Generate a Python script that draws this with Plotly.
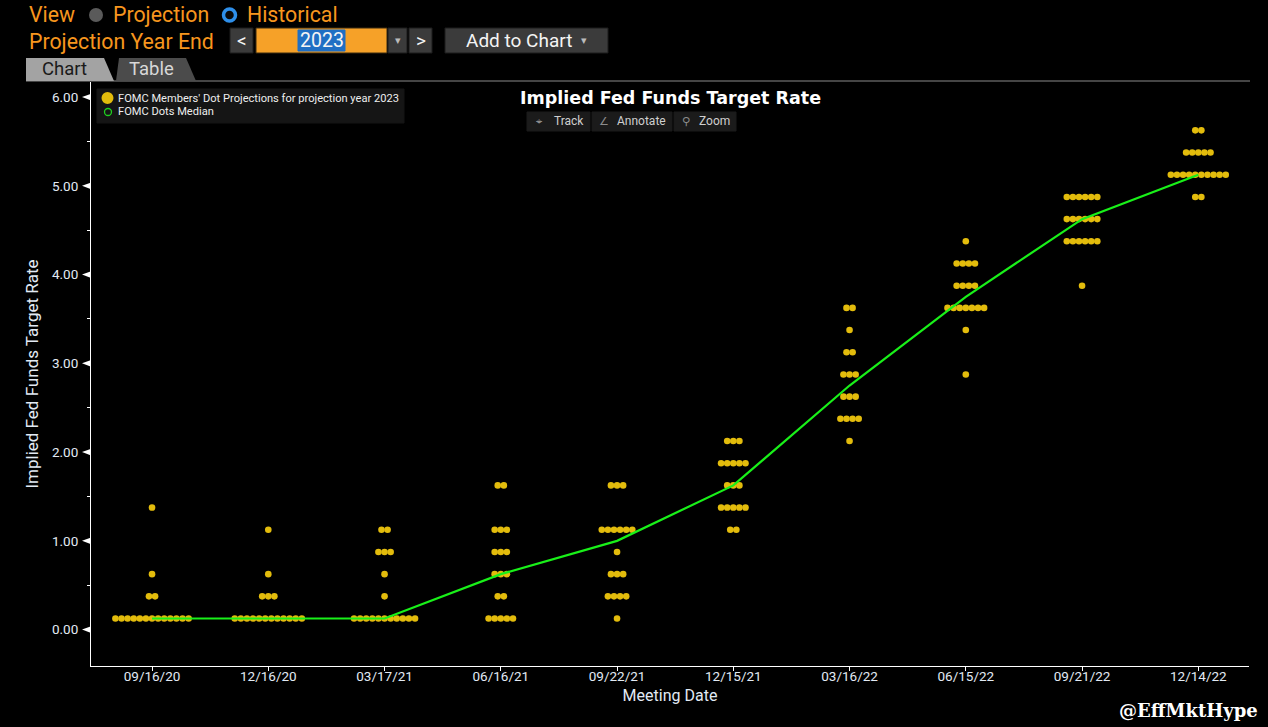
import plotly.graph_objects as go

# ---------------- data ----------------
meetings = ["09/16/20", "12/16/20", "03/17/21", "06/16/21", "09/22/21",
            "12/15/21", "03/16/22", "06/15/22", "09/21/22", "12/14/22"]
dot_rates = [
    [0.125, 0.375, 0.625, 1.375],
    [0.125, 0.375, 0.625, 1.125],
    [0.125, 0.375, 0.625, 0.875, 1.125],
    [0.125, 0.375, 0.625, 0.875, 1.125, 1.625],
    [0.125, 0.375, 0.625, 0.875, 1.125, 1.625],
    [1.125, 1.375, 1.625, 1.875, 2.125],
    [2.125, 2.375, 2.625, 2.875, 3.125, 3.375, 3.625],
    [2.875, 3.375, 3.625, 3.875, 4.125, 4.375],
    [3.875, 4.375, 4.625, 4.875],
    [4.875, 5.125, 5.375, 5.625],
]
dot_counts = [
    [13, 2, 1, 1],
    [12, 3, 1, 1],
    [11, 1, 1, 3, 2],
    [5, 2, 3, 3, 3, 2],
    [1, 4, 3, 1, 6, 3],
    [2, 5, 3, 5, 3],
    [1, 4, 3, 3, 2, 1, 2],
    [1, 1, 7, 4, 4, 1],
    [1, 6, 6, 6],
    [2, 10, 5, 2],
]
median_rate = [0.125, 0.125, 0.125, 0.625, 1.0, 1.625, 2.75, 3.75, 4.625, 5.125]
y_ticks = [0, 1, 2, 3, 4, 5, 6]
y_tick_text = ["%.2f" % v for v in y_ticks]

# ---------------- layout geometry ----------------
FIG_W, FIG_H = 1268, 727
L, R, T, B = 91, 1249, 82, 666
X_RANGE = [-0.525, 9.436]
Y_RANGE = [-0.41, 6.17]
px_per_unit = (R - L) / (X_RANGE[1] - X_RANGE[0])
DOT_STEP = 6.1 / px_per_unit


def px(x):
    return (x - L) / (R - L)


def py(y):
    return (B - y) / (B - T)


ORANGE = "#F7961E"
GOLD = "#E3BC0C"
GREEN = "#19F019"
TICKCOL = "#E2EAF4"
FONT = "Roboto, Liberation Sans, sans-serif"
HDR = 21.3

# ---------------- dots ----------------
xs, ys = [], []
for i, (rates, counts) in enumerate(zip(dot_rates, dot_counts)):
    for r, n in zip(rates, counts):
        for k in range(n):
            xs.append(i + (k - (n - 1) / 2) * DOT_STEP)
            ys.append(r)

xi = list(range(len(meetings)))

fig = go.Figure()
fig.add_trace(go.Scatter(
    x=xs, y=ys, mode="markers",
    name="FOMC Members' Dot Projections for projection year 2023",
    marker=dict(size=6.6, color=GOLD, line=dict(width=0)),
    hoverinfo="y", showlegend=False))
fig.add_trace(go.Scatter(
    x=xi, y=median_rate, mode="lines",
    line=dict(color=GREEN, width=2.2),
    hoverinfo="skip", showlegend=False))
fig.add_trace(go.Scatter(
    x=xi, y=median_rate, mode="markers", name="FOMC Dots Median",
    marker=dict(size=9, color="rgba(0,0,0,0)", symbol="circle-open",
                line=dict(color="#1FC81F", width=1.2)),
    showlegend=False))

shapes = []
annotations = []

# y-axis triangle tick markers
for v in y_ticks:
    h = 3.2 * (Y_RANGE[1] - Y_RANGE[0]) / (B - T)
    shapes.append(dict(type="path", xref="paper", yref="y",
                       path="M %f,%f L %f,%f L %f,%f Z" % (px(82), v, px(90.5), v + h, px(90.5), v - h),
                       fillcolor="white", line=dict(width=0)))

# tab line
shapes.append(dict(type="line", xref="paper", yref="paper",
                   x0=px(26), x1=px(1250), y0=py(81), y1=py(81),
                   line=dict(color="#8a8a8a", width=1)))
# tabs
shapes.append(dict(type="path", xref="paper", yref="paper",
                   path="M %f,%f L %f,%f L %f,%f L %f,%f L %f,%f Z" % (
                       px(116), py(81), px(119), py(58), px(186), py(58), px(196), py(81), px(116), py(81)),
                   fillcolor="#4b4b4b", line=dict(width=0)))
shapes.append(dict(type="path", xref="paper", yref="paper",
                   path="M %f,%f L %f,%f L %f,%f L %f,%f Z" % (
                       px(26), py(81), px(26), py(58), px(104), py(58), px(114), py(81)),
                   fillcolor="#a3a3a3", line=dict(width=0)))
annotations.append(dict(text="Chart", xref="paper", yref="paper", x=px(40), y=py(69),
                        xanchor="left", yanchor="middle", showarrow=False,
                        font=dict(family=FONT, size=18.5, color="#1a1a1a")))
annotations.append(dict(text="Table", xref="paper", yref="paper", x=px(127), y=py(69),
                        xanchor="left", yanchor="middle", showarrow=False,
                        font=dict(family=FONT, size=18.5, color="#d8d8d8")))

# header row 1
annotations.append(dict(text="View", xref="paper", yref="paper", x=px(27), y=py(15),
                        xanchor="left", yanchor="middle", showarrow=False,
                        font=dict(family=FONT, size=HDR, color=ORANGE)))
shapes.append(dict(type="circle", xref="paper", yref="paper",
                   x0=px(89), x1=px(103), y0=py(22), y1=py(8),
                   fillcolor="#5a5a5a", line=dict(width=0)))
annotations.append(dict(text="Projection", xref="paper", yref="paper", x=px(111), y=py(15),
                        xanchor="left", yanchor="middle", showarrow=False,
                        font=dict(family=FONT, size=HDR, color=ORANGE)))
shapes.append(dict(type="circle", xref="paper", yref="paper",
                   x0=px(223.5), x1=px(235.5), y0=py(21), y1=py(9),
                   fillcolor="#0a0a0a", line=dict(color="#2E8FEA", width=3.5)))
annotations.append(dict(text="Historical", xref="paper", yref="paper", x=px(245), y=py(15),
                        xanchor="left", yanchor="middle", showarrow=False,
                        font=dict(family=FONT, size=HDR, color=ORANGE)))

# header row 2
annotations.append(dict(text="Projection Year End", xref="paper", yref="paper", x=px(27), y=py(41),
                        xanchor="left", yanchor="middle", showarrow=False,
                        font=dict(family=FONT, size=HDR, color=ORANGE)))


def box(x0, x1, y0, y1, fill, border="#1c1c1c"):
    shapes.append(dict(type="rect", xref="paper", yref="paper",
                       x0=px(x0), x1=px(x1), y0=py(y1), y1=py(y0),
                       fillcolor=fill, line=dict(color=border, width=1)))


box(230, 253, 28, 53, "#3b3b3b")
box(256, 387, 28, 53, "#F6A128", border="#3a2a10")
box(298, 345, 30, 51, "#1F6FC4", border="#1F6FC4")
box(388, 407, 28, 53, "#3b3b3b")
box(409, 432, 28, 53, "#3b3b3b")
box(445, 608, 28, 53, "#3b3b3b")
for txt, xc, sz in [("<", 241.5, 19), ("2023", 321.5, 19.5), ("\u25BE", 397.5, 11),
                    (">", 420.5, 19), ("Add to Chart", 519, 19), ("\u25BE", 584, 11)]:
    annotations.append(dict(text=txt, xref="paper", yref="paper", x=px(xc), y=py(40.5),
                            xanchor="center", yanchor="middle", showarrow=False,
                            font=dict(family=FONT, size=sz,
                                      color="#f4f4f4" if txt != "\u25BE" else "#bbbbbb")))

# legend box (manual)
box(97, 404, 89, 123, "#151515", border="#151515")
shapes.append(dict(type="circle", xref="paper", yref="paper",
                   x0=px(101.5), x1=px(113.5), y0=py(104), y1=py(92),
                   fillcolor=GOLD, line=dict(width=0)))
shapes.append(dict(type="circle", xref="paper", yref="paper",
                   x0=px(104.5), x1=px(111.5), y0=py(115.5), y1=py(108.5),
                   fillcolor="rgba(0,0,0,0)", line=dict(color="#1FD01F", width=1.3)))
annotations.append(dict(text="FOMC Members' Dot Projections for projection year 2023",
                        xref="paper", yref="paper", x=px(116), y=py(98.5),
                        xanchor="left", yanchor="middle", showarrow=False,
                        font=dict(family=FONT, size=11.1, color="#eeeeee")))
annotations.append(dict(text="FOMC Dots Median",
                        xref="paper", yref="paper", x=px(116), y=py(112),
                        xanchor="left", yanchor="middle", showarrow=False,
                        font=dict(family=FONT, size=11.1, color="#eeeeee")))

# chart title
annotations.append(dict(text="<b>Implied Fed Funds Target Rate</b>", xref="paper", yref="paper",
                        x=px(670.5), y=py(98.5), xanchor="center", yanchor="middle", showarrow=False,
                        font=dict(family="DejaVu Sans, Verdana, sans-serif", size=17.5, color="white")))

# toolbar
for x0, x1, label, icon in [(527, 590, "Track", "\u2316"), (592, 672, "Annotate", "\u2220"),
                            (674, 736, "Zoom", "\u26B2")]:
    box(x0, x1, 112, 131, "#1b1b1b", border="#1b1b1b")
    annotations.append(dict(text=label, xref="paper", yref="paper", x=px(x1 - 4), y=py(121.5),
                            xanchor="right", yanchor="middle", showarrow=False,
                            font=dict(family=FONT, size=12, color="#cfcfcf")))
    annotations.append(dict(text=icon, xref="paper", yref="paper", x=px(x0 + 12), y=py(121.5),
                            xanchor="center", yanchor="middle", showarrow=False,
                            font=dict(family="DejaVu Sans", size=11, color="#8c8c8c")))

# watermark
annotations.append(dict(text="<b>@EffMktHype</b>", xref="paper", yref="paper",
                        x=px(1260), y=py(710), xanchor="right", yanchor="middle", showarrow=False,
                        font=dict(family="DejaVu Serif, Liberation Serif, serif", size=18, color="white")))

fig.update_layout(
    width=FIG_W, height=FIG_H,
    margin=dict(l=L, r=FIG_W - R, t=T, b=FIG_H - B, pad=0),
    paper_bgcolor="black", plot_bgcolor="black",
    showlegend=False,
    shapes=shapes, annotations=annotations,
    xaxis=dict(range=X_RANGE, tickmode="array", tickvals=xi, ticktext=meetings,
               showgrid=False, zeroline=False, showline=True, linecolor="white", linewidth=1,
               ticks="outside", ticklen=4, tickcolor="white", tickwidth=1,
               ticklabelstandoff=-6,
               tickfont=dict(family=FONT, size=13.5, color=TICKCOL),
               title=dict(text="Meeting Date", standoff=6,
                          font=dict(family=FONT, size=16, color=TICKCOL))),
    yaxis=dict(range=Y_RANGE, tickmode="array", tickvals=y_ticks, ticktext=y_tick_text,
               showgrid=False, zeroline=False, showline=True, linecolor="white", linewidth=1,
               ticks="outside", ticklen=9, tickcolor="rgba(0,0,0,0)",
               minor=dict(tickmode="array", tickvals=[0.5, 1.5, 2.5, 3.5, 4.5, 5.5],
                          ticks="outside", ticklen=3, tickcolor="white", tickwidth=1),
               tickfont=dict(family=FONT, size=13.5, color=TICKCOL),
               title=dict(text="Implied Fed Funds Target Rate", standoff=9,
                          font=dict(family=FONT, size=17, color=TICKCOL))),
)

fig.write_html("out.html", config={"displayModeBar": False},
               post_script="document.body.style.margin='0';document.body.style.overflow='hidden';")
